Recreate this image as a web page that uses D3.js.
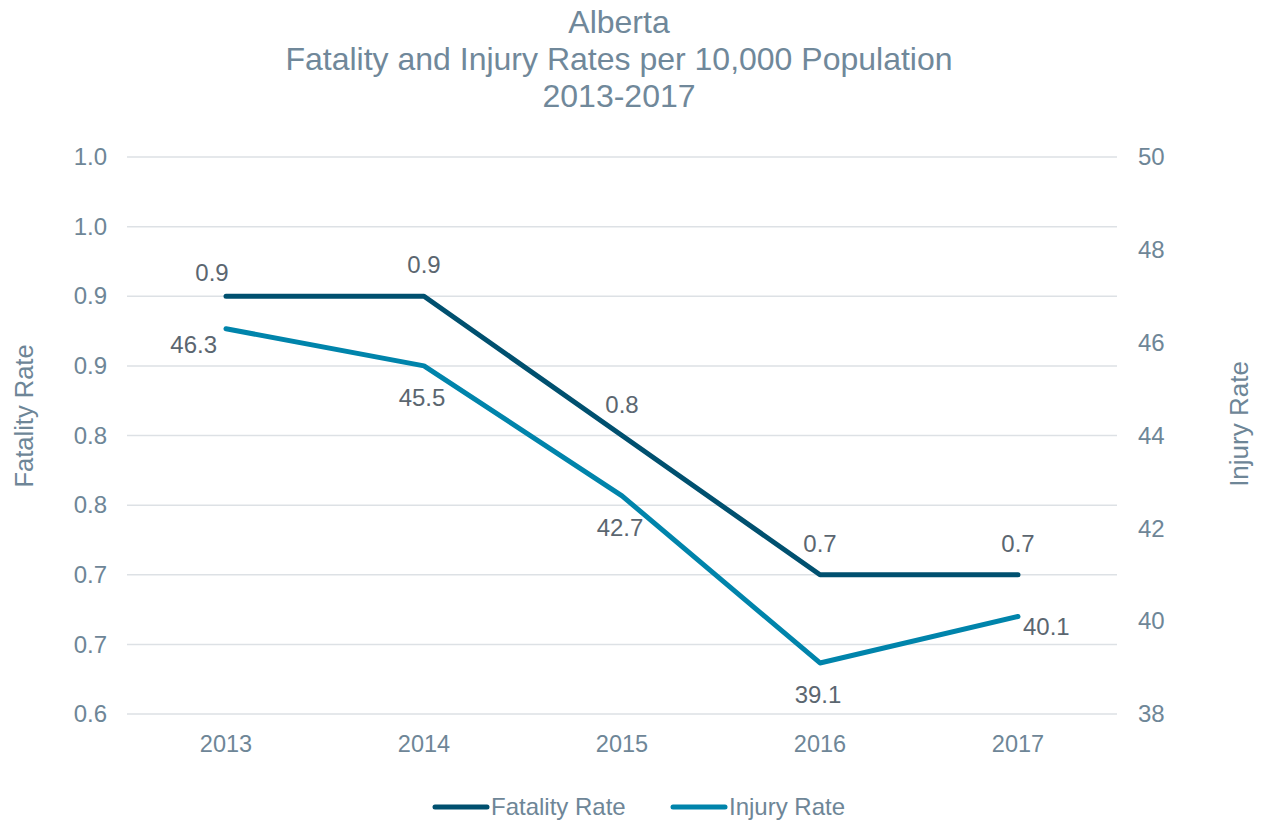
<!DOCTYPE html>
<html>
<head>
<meta charset="utf-8">
<script src="https://cdn.jsdelivr.net/npm/d3@7"></script>
<style>
  body { margin: 0; background: #fff; }
  text { font-family: "Liberation Sans", Arial, sans-serif; }
</style>
</head>
<body>
<div id="chart"></div>
<script>
// data
const years = ["2013", "2014", "2015", "2016", "2017"];
const fatalityRate = [0.90, 0.90, 0.80, 0.70, 0.70];
const injuryRate = [46.3, 45.5, 42.7, 39.1, 40.1];
const fatalityTicks = [0.6, 0.65, 0.7, 0.75, 0.8, 0.85, 0.9, 0.95, 1.0];
const injuryTicks = [38, 40, 42, 44, 46, 48, 50];
const titleLines = ["Alberta", "Fatality and Injury Rates per 10,000 Population", "2013-2017"];

const width = 1263, height = 820;
const margin = {top: 157, right: 146, bottom: 106, left: 127};

const axisColor = "#6E8697";
const labelColor = "#5B6670";
const fatColor = "#00506F";
const injColor = "#0084AB";

// excel style rounding: 0.95 -> 1.0, 0.65 -> 0.7
const fmt1 = d => (Math.round(d * 10) / 10).toFixed(1);

const svg = d3.select("#chart").append("svg")
  .attr("width", width)
  .attr("height", height);

const x = d3.scaleBand()
  .domain(years)
  .range([margin.left, width - margin.right]);

const yL = d3.scaleLinear()
  .domain([0.6, 1.0])
  .range([height - margin.bottom, margin.top]);

const yR = d3.scaleLinear()
  .domain([38, 50])
  .range([height - margin.bottom, margin.top]);

// title
svg.append("g").selectAll("text")
  .data(titleLines)
  .join("text")
  .attr("x", 619)
  .attr("y", (d, i) => 33 + i * 37)
  .attr("text-anchor", "middle")
  .style("font-size", "32px")
  .style("fill", "#70889A")
  .text(d => d);

// gridlines
svg.append("g").selectAll("line")
  .data(fatalityTicks)
  .join("line")
  .attr("x1", margin.left)
  .attr("x2", width - margin.right)
  .attr("y1", d => yL(d))
  .attr("y2", d => yL(d))
  .style("stroke", "#DDE1E5")
  .style("stroke-width", 1.5);

// left axis
const axL = svg.append("g")
  .attr("transform", "translate(" + margin.left + ",0)")
  .call(d3.axisLeft(yL).tickValues(fatalityTicks).tickFormat(fmt1).tickSize(0).tickPadding(20));
axL.select(".domain").remove();
axL.selectAll("text").style("font-size", "24px").style("fill", axisColor).style("font-family", "Liberation Sans, Arial, sans-serif");

// right axis
const axR = svg.append("g")
  .attr("transform", "translate(" + (width - margin.right) + ",0)")
  .call(d3.axisRight(yR).tickValues(injuryTicks).tickSize(0).tickPadding(21));
axR.select(".domain").remove();
axR.selectAll("text").style("font-size", "24px").style("fill", axisColor).style("font-family", "Liberation Sans, Arial, sans-serif");

// bottom axis
const axB = svg.append("g")
  .attr("transform", "translate(0," + (height - margin.bottom) + ")")
  .call(d3.axisBottom(x).tickSize(0).tickPadding(21));
axB.select(".domain").remove();
axB.selectAll("text").style("font-size", "23.5px").style("fill", axisColor).style("font-family", "Liberation Sans, Arial, sans-serif");

// axis titles
svg.append("text")
  .attr("transform", "translate(33,416) rotate(-90)")
  .attr("text-anchor", "middle")
  .style("font-size", "25.5px")
  .style("fill", axisColor)
  .text("Fatality Rate");

svg.append("text")
  .attr("transform", "translate(1248,424) rotate(-90)")
  .attr("text-anchor", "middle")
  .style("font-size", "26px")
  .style("fill", axisColor)
  .text("Injury Rate");

const cx = d => x(d) + x.bandwidth() / 2;

// lines
const fatLine = d3.line()
  .x((d, i) => cx(years[i]))
  .y(d => yL(d));
const injLine = d3.line()
  .x((d, i) => cx(years[i]))
  .y(d => yR(d));

svg.append("path")
  .datum(injuryRate)
  .attr("d", injLine)
  .style("fill", "none")
  .style("stroke", injColor)
  .style("stroke-width", 5)
  .style("stroke-linecap", "round")
  .style("stroke-linejoin", "round");

svg.append("path")
  .datum(fatalityRate)
  .attr("d", fatLine)
  .style("fill", "none")
  .style("stroke", fatColor)
  .style("stroke-width", 5)
  .style("stroke-linecap", "round")
  .style("stroke-linejoin", "round");

// data labels
const last = years.length - 1;

svg.append("g").selectAll("text")
  .data(fatalityRate)
  .join("text")
  .attr("x", (d, i) => cx(years[i]) - (i === 0 ? 14 : 0))
  .attr("y", (d, i) => yL(d) - (i === 0 ? 15 : 23))
  .attr("text-anchor", "middle")
  .style("font-size", "24px")
  .style("fill", labelColor)
  .text(d => fmt1(d));

svg.append("g").selectAll("text")
  .data(injuryRate)
  .join("text")
  .attr("x", (d, i) => {
    if (i === 0) return cx(years[i]) - 9;
    if (i === last) return cx(years[i]) + 5;
    return cx(years[i]) - 2;
  })
  .attr("y", (d, i) => {
    if (i === 0) return yR(d) + 24;
    if (i === last) return yR(d) + 18;
    return yR(d) + 40;
  })
  .attr("text-anchor", (d, i) => i === 0 ? "end" : (i === last ? "start" : "middle"))
  .style("font-size", "24px")
  .style("fill", labelColor)
  .text(d => d.toFixed(1));

// legend
const legend = [
  {name: "Fatality Rate", color: fatColor, x: 433},
  {name: "Injury Rate", color: injColor, x: 671}
];
const lg = svg.append("g").selectAll("g")
  .data(legend)
  .join("g")
  .attr("transform", d => "translate(" + d.x + ",807)");
lg.append("line")
  .attr("x1", 2).attr("x2", 54)
  .style("stroke", d => d.color)
  .style("stroke-width", 5)
  .style("stroke-linecap", "round");
lg.append("text")
  .attr("x", 58)
  .attr("y", 8)
  .style("font-size", "24px")
  .style("fill", axisColor)
  .text(d => d.name);
</script>
</body>
</html>
